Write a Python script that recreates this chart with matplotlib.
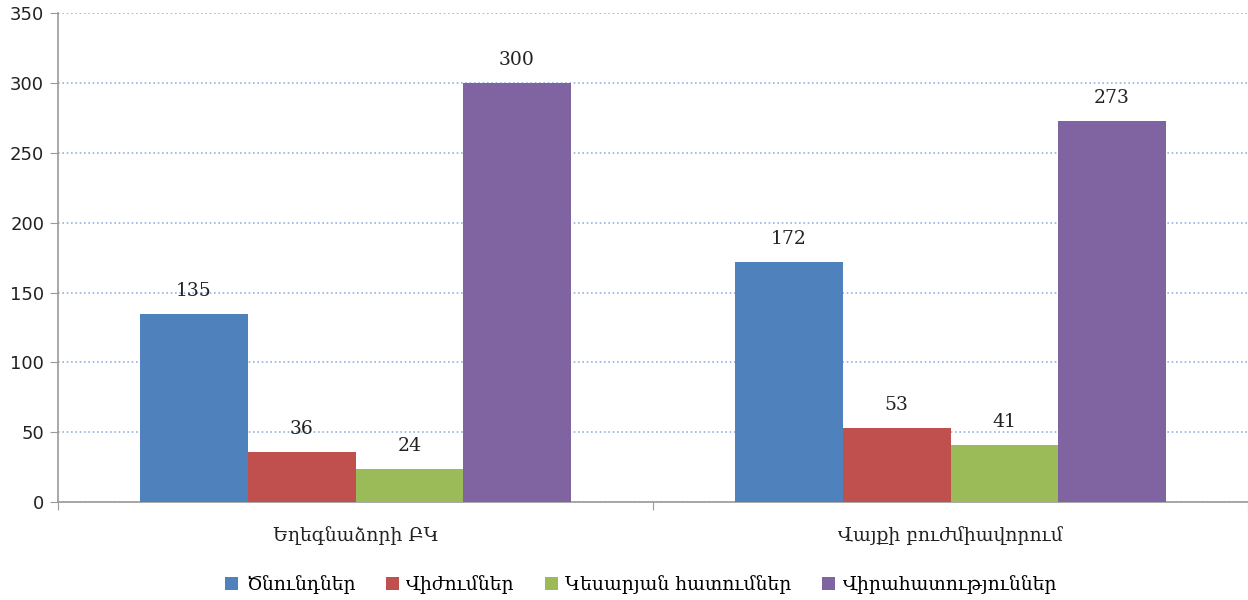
import matplotlib
matplotlib.use("Agg")
import matplotlib.pyplot as plt
import numpy as np

# data
categories = ["Եղեգնաձորի ԲԿ", "Վայքի բուժմիավորում"]
series_names = ["Ծնունդներ", "Վիժումներ", "Կեսարյան հատումներ", "Վիրահատություններ"]
births = [135, 172]
abortions = [36, 53]
cesareans = [24, 41]
surgeries = [300, 273]
y_ticks = [0, 50, 100, 150, 200, 250, 300, 350]

colors = ["#4F81BD", "#C0504D", "#9BBB59", "#8064A2"]
serif = ["DejaVu Serif", "DejaVu Sans"]

fig = plt.figure(figsize=(12.48, 6.0), dpi=100)
ax = fig.add_axes([0.0465, 0.163, 0.9535, 0.815])

x = np.arange(len(categories))
width = 0.181
values = [births, abortions, cesareans, surgeries]
for i, (vals, name, color) in enumerate(zip(values, series_names, colors)):
    pos = x + (i - 1.5) * width
    ax.bar(pos, vals, width=width, color=color, label=name, zorder=3)
    for px, v in zip(pos, vals):
        ax.text(px, v + 10, str(v), ha="center", va="bottom",
                fontsize=13.5, family=serif, color="#222222")

ax.set_xlim(-0.5, 1.5)
ax.set_ylim(0, 350)
ax.set_yticks(y_ticks)
ax.tick_params(axis="y", labelsize=13, length=6, color="#9a9a9a", pad=4,
               labelcolor="#222222")
ax.grid(axis="y", linestyle=(0, (1, 1.6)), color="#95b3e0", linewidth=1.2, zorder=0)

ax.set_xticks([-0.5, 0.5, 1.5])
ax.set_xticklabels([])
ax.tick_params(axis="x", length=6, color="#9a9a9a")
for xi, cat in zip(x, categories):
    ax.text(xi, -17, cat, ha="center", va="top", fontsize=13.5, family=serif,
            color="#222222", clip_on=False)

for side in ("top", "right"):
    ax.spines[side].set_visible(False)
for side in ("left", "bottom"):
    ax.spines[side].set_color("#9a9a9a")
    ax.spines[side].set_linewidth(1.2)

ax.legend(loc="upper center", bbox_to_anchor=(0.49, -0.115), ncol=4,
          frameon=False, handlelength=0.7, handleheight=0.7,
          handletextpad=0.4, columnspacing=1.6,
          prop={"family": serif, "size": 13.5})

fig.savefig("out.png", dpi=100)
